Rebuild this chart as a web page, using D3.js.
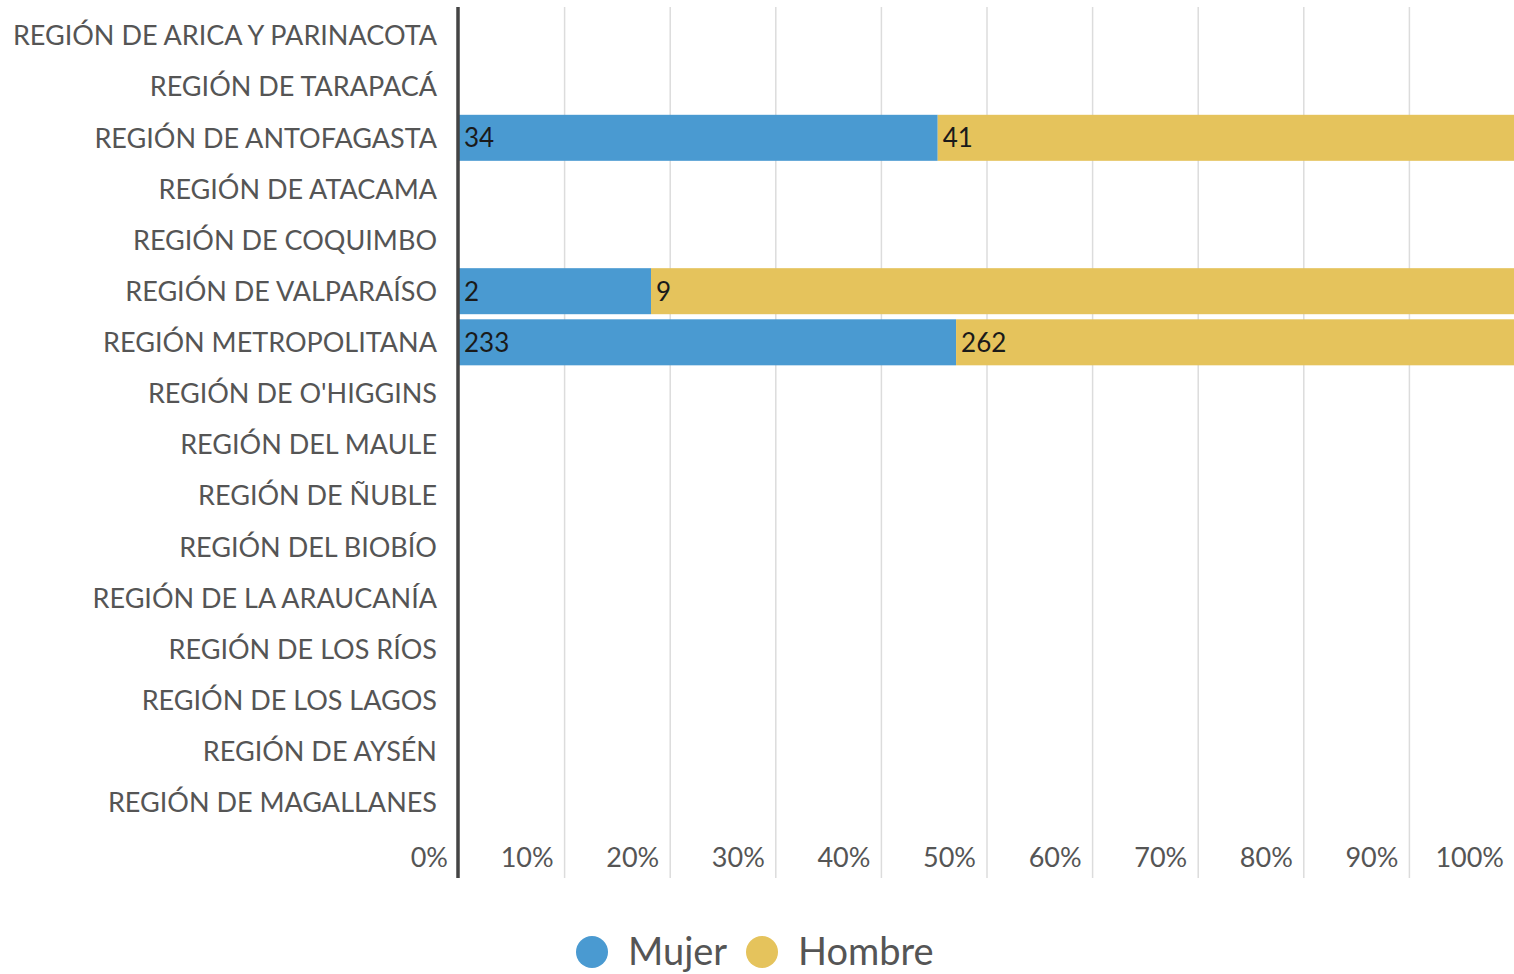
<!DOCTYPE html>
<html>
<head>
<meta charset="utf-8">
<title>Regiones</title>
<script src="https://d3js.org/d3.v7.min.js"></script>
<style>
  body { margin: 0; background: #fff; }
  text { font-family: Lato, "Open Sans", sans-serif; }
</style>
</head>
<body>
<script>
// data
const regions = ["REGIÓN DE ARICA Y PARINACOTA", "REGIÓN DE TARAPACÁ", "REGIÓN DE ANTOFAGASTA",
  "REGIÓN DE ATACAMA", "REGIÓN DE COQUIMBO", "REGIÓN DE VALPARAÍSO", "REGIÓN METROPOLITANA",
  "REGIÓN DE O'HIGGINS", "REGIÓN DEL MAULE", "REGIÓN DE ÑUBLE", "REGIÓN DEL BIOBÍO",
  "REGIÓN DE LA ARAUCANÍA", "REGIÓN DE LOS RÍOS", "REGIÓN DE LOS LAGOS", "REGIÓN DE AYSÉN",
  "REGIÓN DE MAGALLANES"];
const mujer  = [0, 0, 34, 0, 0, 2, 233, 0, 0, 0, 0, 0, 0, 0, 0, 0];
const hombre = [0, 0, 41, 0, 0, 9, 262, 0, 0, 0, 0, 0, 0, 0, 0, 0];
const seriesNames = ["Mujer", "Hombre"];
const colors = ["#4a9ad1", "#e5c35c"];
const ticks = [0, 0.1, 0.2, 0.3, 0.4, 0.5, 0.6, 0.7, 0.8, 0.9, 1];

const W = 1514, H = 974;
const mLeft = 459, mRight = 1515, mTop = 10, mBottom = 828, axisBottom = 878;

const svg = d3.select("body").append("svg").attr("width", W).attr("height", H);

const x = d3.scaleLinear().domain([0, 1]).range([mLeft, mRight]);
const y = d3.scaleBand().domain(regions).range([mTop, mBottom]).paddingInner(0.1).paddingOuter(0.05);

// gridlines
svg.append("g").selectAll("line").data(ticks.slice(1)).enter().append("line")
  .attr("x1", d => x(d)).attr("x2", d => x(d))
  .attr("y1", 7).attr("y2", axisBottom)
  .attr("stroke", "#dcdcdc").attr("stroke-width", 1.5);

// tick labels
svg.append("g").selectAll("text").data(ticks).enter().append("text")
  .attr("x", d => x(d) - 11).attr("y", 867)
  .attr("text-anchor", "end")
  .attr("font-size", 27).attr("fill", "#555")
  .text(d => d3.format(".0%")(d));

// stacked rows
const rows = regions.map((r, i) => {
  const tot = mujer[i] + hombre[i];
  const vals = [mujer[i], hombre[i]];
  let acc = 0;
  return vals.map((v, k) => {
    const s = { region: r, k: k, v: v, x0: tot ? acc / tot : 0, x1: tot ? (acc + v) / tot : 0 };
    acc += v;
    return s;
  }).filter(d => d.v > 0);
}).flat();

svg.append("g").selectAll("rect").data(rows).enter().append("rect")
  .attr("x", d => x(d.x0)).attr("width", d => x(d.x1) - x(d.x0))
  .attr("y", d => y(d.region)).attr("height", y.bandwidth())
  .attr("fill", d => colors[d.k]);

svg.append("g").selectAll("text").data(rows).enter().append("text")
  .attr("x", d => x(d.x0) + 5).attr("y", d => y(d.region) + y.bandwidth() / 2)
  .attr("dy", "0.36em")
  .attr("font-size", 26).attr("fill", "#1a1a1a")
  .text(d => d.v);

// category labels
svg.append("g").selectAll("text").data(regions).enter().append("text")
  .attr("x", 437).attr("y", d => y(d) + y.bandwidth() / 2)
  .attr("dy", "0.36em").attr("text-anchor", "end")
  .attr("font-size", 27).attr("fill", "#555")
  .text(d => d);

// axis line
svg.append("line").attr("x1", 458).attr("x2", 458).attr("y1", 7).attr("y2", axisBottom)
  .attr("stroke", "#444").attr("stroke-width", 3.5);

// legend
const leg = svg.append("g");
const legX = [592, 762];
seriesNames.forEach((n, i) => {
  leg.append("circle").attr("cx", legX[i]).attr("cy", 952).attr("r", 16).attr("fill", colors[i]);
  leg.append("text").attr("x", legX[i] + 36).attr("y", 951).attr("dy", "0.36em")
    .attr("font-size", 38).attr("fill", "#555").text(n);
});
</script>
</body>
</html>
